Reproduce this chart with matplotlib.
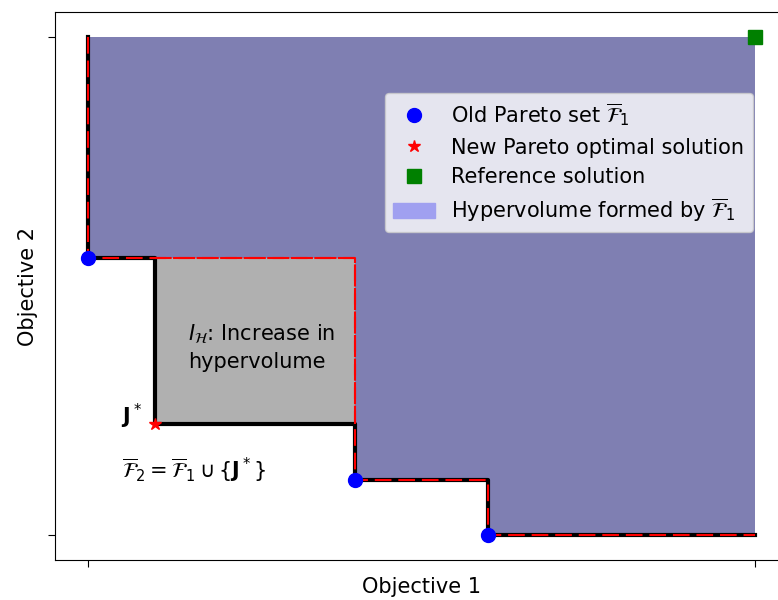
import matplotlib
matplotlib.use("Agg")
from matplotlib import pyplot as plt
from matplotlib.lines import Line2D
from matplotlib.patches import Patch

# old Pareto set F1 and the new solution J*
old_x = [0, 4, 6]
old_y = [5, 1, 0]
new_x = [1]
new_y = [2]
ref_x = [10]
ref_y = [9]

# staircase fronts (bounded by the reference point)
old_front_x = [0, 0, 4, 4, 6, 6, 10]
old_front_y = [9, 5, 5, 1, 1, 0, 0]
new_front_x = [0, 0, 1, 1, 4, 4, 6, 6, 10]
new_front_y = [9, 5, 5, 2, 2, 1, 1, 0, 0]

# increase region
inc_x = [1, 4]
inc_lo = [2, 2]
inc_hi = [5, 5]

fig = plt.figure(figsize=(7.78, 6.0), dpi=100)
ax = fig.add_axes([0.0707, 0.0667, 0.942, 0.913])

# hypervolume of F1
ax.fill_between(old_front_x, old_front_y, [9] * len(old_front_x), color='#7f7fb2', lw=0, zorder=1)
ax.fill_between(inc_x, inc_lo, inc_hi, color='#b0b0b0', lw=0, zorder=1)

dash = (8, 3.3)
ax.plot(new_front_x, new_front_y, color='black', lw=3, zorder=2)
ax.plot(old_front_x, old_front_y, color='red', lw=1.5, ls='--', dashes=dash, zorder=3)
# dashed edges of the increase region
ax.plot([1, 4, 4], [5, 5, 2], color='red', lw=1.5, ls='--', dashes=dash, zorder=3)

ax.plot(old_x, old_y, 'o', color='blue', ms=10, zorder=4, clip_on=False)
ax.plot(new_x, new_y, '*', color='red', ms=9, zorder=4)
ax.plot(ref_x, ref_y, 's', color='green', ms=10, zorder=4, clip_on=False)

fs = 15
ax.text(1.5, 3.4, "$I_{\\mathcal{H}}$: Increase in\nhypervolume", fontsize=fs,
        ha='left', va='center', linespacing=1.4)
ax.text(0.8, 2.15, "$\\mathbf{J}^*$", fontsize=fs, ha='right', va='center')
ax.text(0.5, 1.17, "$\\overline{\\mathcal{F}}_2 = \\overline{\\mathcal{F}}_1 \\cup \\{\\mathbf{J}^*\\}$",
        fontsize=fs, ha='left', va='center')

ax.set_xlim(-0.5, 10.5)
ax.set_ylim(-0.45, 9.45)
ax.set_xticks([0, 10])
ax.set_yticks([0, 9])
ax.set_xticklabels([])
ax.set_yticklabels([])
ax.tick_params(length=5)
ax.set_xlabel("Objective 1", fontsize=fs)
ax.set_ylabel("Objective 2", fontsize=fs)

handles = [
    Line2D([], [], marker='o', color='blue', ls='none', ms=10),
    Line2D([], [], marker='*', color='red', ls='none', ms=9),
    Line2D([], [], marker='s', color='green', ls='none', ms=10),
    Patch(color='#a0a0f0'),
]
labels = [
    "Old Pareto set $\\overline{\\mathcal{F}}_1$",
    "New Pareto optimal solution",
    "Reference solution",
    "Hypervolume formed by $\\overline{\\mathcal{F}}_1$",
]
ax.legend(handles, labels, fontsize=fs, loc='upper left', borderaxespad=0,
          bbox_to_anchor=(0.450, 0.852), labelspacing=0.45)

fig.savefig("out.png", dpi=100)
